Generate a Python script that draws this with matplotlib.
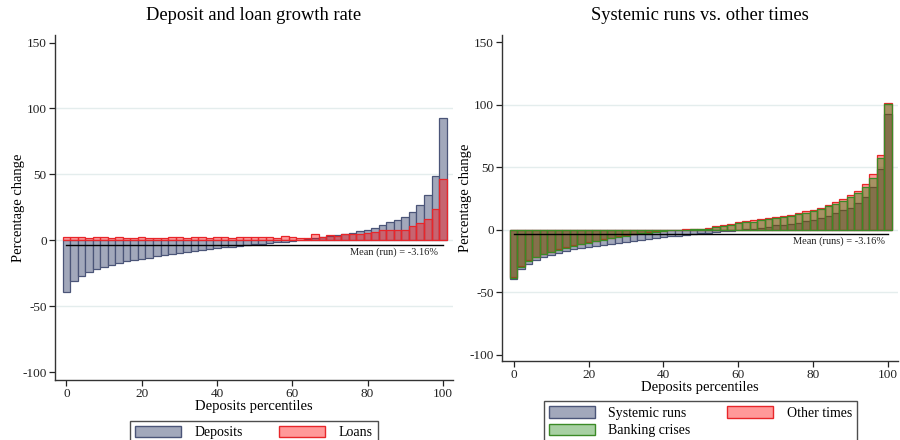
import matplotlib
matplotlib.use("Agg")
import matplotlib.pyplot as plt
import numpy as np
from matplotlib.patches import Patch

plt.rcParams['font.family'] = ['Liberation Serif', 'DejaVu Serif']
plt.rcParams['axes.unicode_minus'] = False

# Percentiles of the deposit growth distribution (every 2nd percentile)
percentiles = list(range(0, 101, 2))

deposits = [-39.3, -31.0, -27.0, -24.0, -21.8, -20.0, -18.3, -17.0, -15.7, -14.7,
            -13.7, -13.0, -12.0, -11.2, -10.4, -9.6, -8.9, -8.1, -7.4, -6.6,
            -5.8, -5.3, -4.6, -4.0, -3.5, -2.8, -2.3, -1.8, -1.3, -0.8,
            -0.2, 0.5, 1.0, 1.5, 2.5, 3.5, 4.0, 5.0, 5.6, 7.1,
            8.1, 9.6, 11.4, 13.7, 15.7, 17.7, 21.5, 26.6, 34.2, 48.6,
            92.6]

loans = [3.0, 3.0, 2.5, 1.5, 2.3, 2.8, 1.8, 2.5, 1.5, 1.5,
         2.3, 1.8, 1.8, 1.8, 2.5, 2.3, 1.8, 2.3, 2.3, 1.5,
         2.3, 2.8, 2.0, 2.8, 2.8, 2.8, 2.8, 2.8, 2.0, 3.3,
         2.8, 2.0, 2.0, 4.8, 2.5, 4.0, 3.5, 4.8, 4.8, 4.6,
         6.0, 6.6, 7.8, 7.8, 7.8, 7.8, 10.9, 13.2, 16.5, 24.0,
         46.5]

systemic_runs = deposits

other_times = [-37.8, -29.3, -24.5, -21.6, -19.3, -17.4, -15.4, -13.9, -12.5, -11.2,
               -9.8, -8.6, -7.4, -6.2, -5.2, -4.2, -3.3, -2.5, -1.8, -1.1,
               -0.6, -0.2, 0.1, 0.3, 0.6, 1.0, 1.6, 2.7, 3.7, 4.8,
               5.9, 6.7, 7.5, 8.3, 9.1, 10.2, 11.0, 11.8, 13.4, 14.7,
               16.0, 17.6, 19.5, 21.9, 24.6, 27.5, 31.0, 36.6, 44.7, 59.6,
               101.8]

banking_crises = [-38.3, -29.8, -25.0, -22.0, -19.7, -17.8, -15.8, -14.3, -12.9, -11.6,
                  -10.2, -9.0, -7.8, -6.6, -5.6, -4.6, -3.7, -2.9, -2.2, -1.5,
                  -1.0, -0.5, -0.2, 0.1, 0.3, 0.5, 1.0, 1.9, 2.9, 4.0,
                  5.1, 5.9, 6.4, 7.5, 8.3, 9.1, 9.9, 11.0, 12.3, 13.6,
                  15.2, 16.8, 18.7, 20.6, 23.3, 25.9, 29.4, 34.2, 41.2, 57.2,
                  100.5]

mean_run = -3.16
y_ticks = [-100, -50, 0, 50, 100, 150]
x_ticks = [0, 20, 40, 60, 80, 100]

# Styles
BLUE_FACE = '#a2a8bb'
BLUE_EDGE = '#4b5578'
RED_FACE = (1.0, 0.0, 0.0, 0.40)
RED_EDGE = '#e8262a'
GREEN_FACE = (0.10, 0.52, 0.06, 0.38)
GREEN_EDGE = '#3b8a26'
GRID = '#e4eded'
BAR_W = 2.0

fig = plt.figure(figsize=(9.0, 4.4), dpi=100)
ax1 = fig.add_axes([0.0611, 0.1364, 0.4422, 0.7841])
ax2 = fig.add_axes([0.5581, 0.1795, 0.4400, 0.7410])


def style_axes(ax, ylim):
    ax.set_xlim(-3.05, 102.7)
    ax.set_ylim(*ylim)
    ax.set_yticks(y_ticks)
    ax.set_xticks(x_ticks)
    ax.tick_params(axis='both', direction='out', length=4, width=0.9,
                   labelsize=9.5, colors='#222222', pad=2)
    for s in ('top', 'right'):
        ax.spines[s].set_visible(False)
    for s in ('left', 'bottom'):
        ax.spines[s].set_color('#333333')
        ax.spines[s].set_linewidth(1.0)
    for v in (-50, 0, 50, 100):
        ax.axhline(v, color=GRID, lw=1.0, zorder=0)
    ax.set_xlabel('Deposits percentiles', fontsize=10.5, labelpad=0)
    ax.set_ylabel('Percentage change', fontsize=10.5, labelpad=-2)


# Left: deposits and loans
ax1.bar(percentiles, deposits, width=BAR_W, color=BLUE_FACE, edgecolor=BLUE_EDGE,
        linewidth=0.9, zorder=2)
ax1.bar(percentiles, loans, width=BAR_W, color=RED_FACE, edgecolor=RED_EDGE,
        linewidth=0.9, zorder=3)
ax1.plot([0, 100], [mean_run, mean_run], color='black', lw=1.0, zorder=4)
ax1.text(98.8, mean_run - 2.2, 'Mean (run) = -3.16%', ha='right', va='top',
         fontsize=7.5, color='#222222', zorder=5)
style_axes(ax1, (-105.7, 155.7))
ax1.set_title('Deposit and loan growth rate', fontsize=13.3, pad=11)
ax1.legend(handles=[Patch(facecolor=BLUE_FACE, edgecolor=BLUE_EDGE, label='Deposits'),
                    Patch(facecolor=RED_FACE, edgecolor=RED_EDGE, label='Loans')],
           loc='upper center', bbox_to_anchor=(0.5, -0.098), ncol=2, fontsize=10,
           frameon=True, fancybox=False, edgecolor='#222222', handlelength=3.3,
           handleheight=0.9, columnspacing=2.6, borderpad=0.35, handletextpad=1.0)
ax1.get_legend().get_frame().set_linewidth(1.0)

# Right: systemic runs vs other times vs banking crises
ax2.bar(percentiles, systemic_runs, width=BAR_W, color=BLUE_FACE, edgecolor=BLUE_EDGE,
        linewidth=0.9, zorder=2)
ax2.bar(percentiles, other_times, width=BAR_W, color=RED_FACE, edgecolor=RED_EDGE,
        linewidth=0.9, zorder=3)
ax2.bar(percentiles, banking_crises, width=BAR_W, color=GREEN_FACE, edgecolor=GREEN_EDGE,
        linewidth=0.9, zorder=4)
ax2.plot([0, 100], [mean_run, mean_run], color='black', lw=1.0, zorder=5)
ax2.text(99.2, mean_run - 2.0, 'Mean (runs) = -3.16%', ha='right', va='top',
         fontsize=7.5, color='#222222', zorder=6)
style_axes(ax2, (-105.0, 155.9))
ax2.set_title('Systemic runs vs. other times', fontsize=13.3, pad=11)
ax2.legend(handles=[Patch(facecolor=BLUE_FACE, edgecolor=BLUE_EDGE, label='Systemic runs'),
                    Patch(facecolor=GREEN_FACE, edgecolor=GREEN_EDGE, label='Banking crises'),
                    Patch(facecolor=RED_FACE, edgecolor=RED_EDGE, label='Other times')],
           loc='upper center', bbox_to_anchor=(0.5, -0.102), ncol=2, fontsize=10,
           frameon=True, fancybox=False, edgecolor='#222222', handlelength=3.3,
           handleheight=0.9, columnspacing=2.6, borderpad=0.35, handletextpad=1.0,
           labelspacing=0.3)
ax2.get_legend().get_frame().set_linewidth(1.0)

fig.savefig('out.png', dpi=100)
